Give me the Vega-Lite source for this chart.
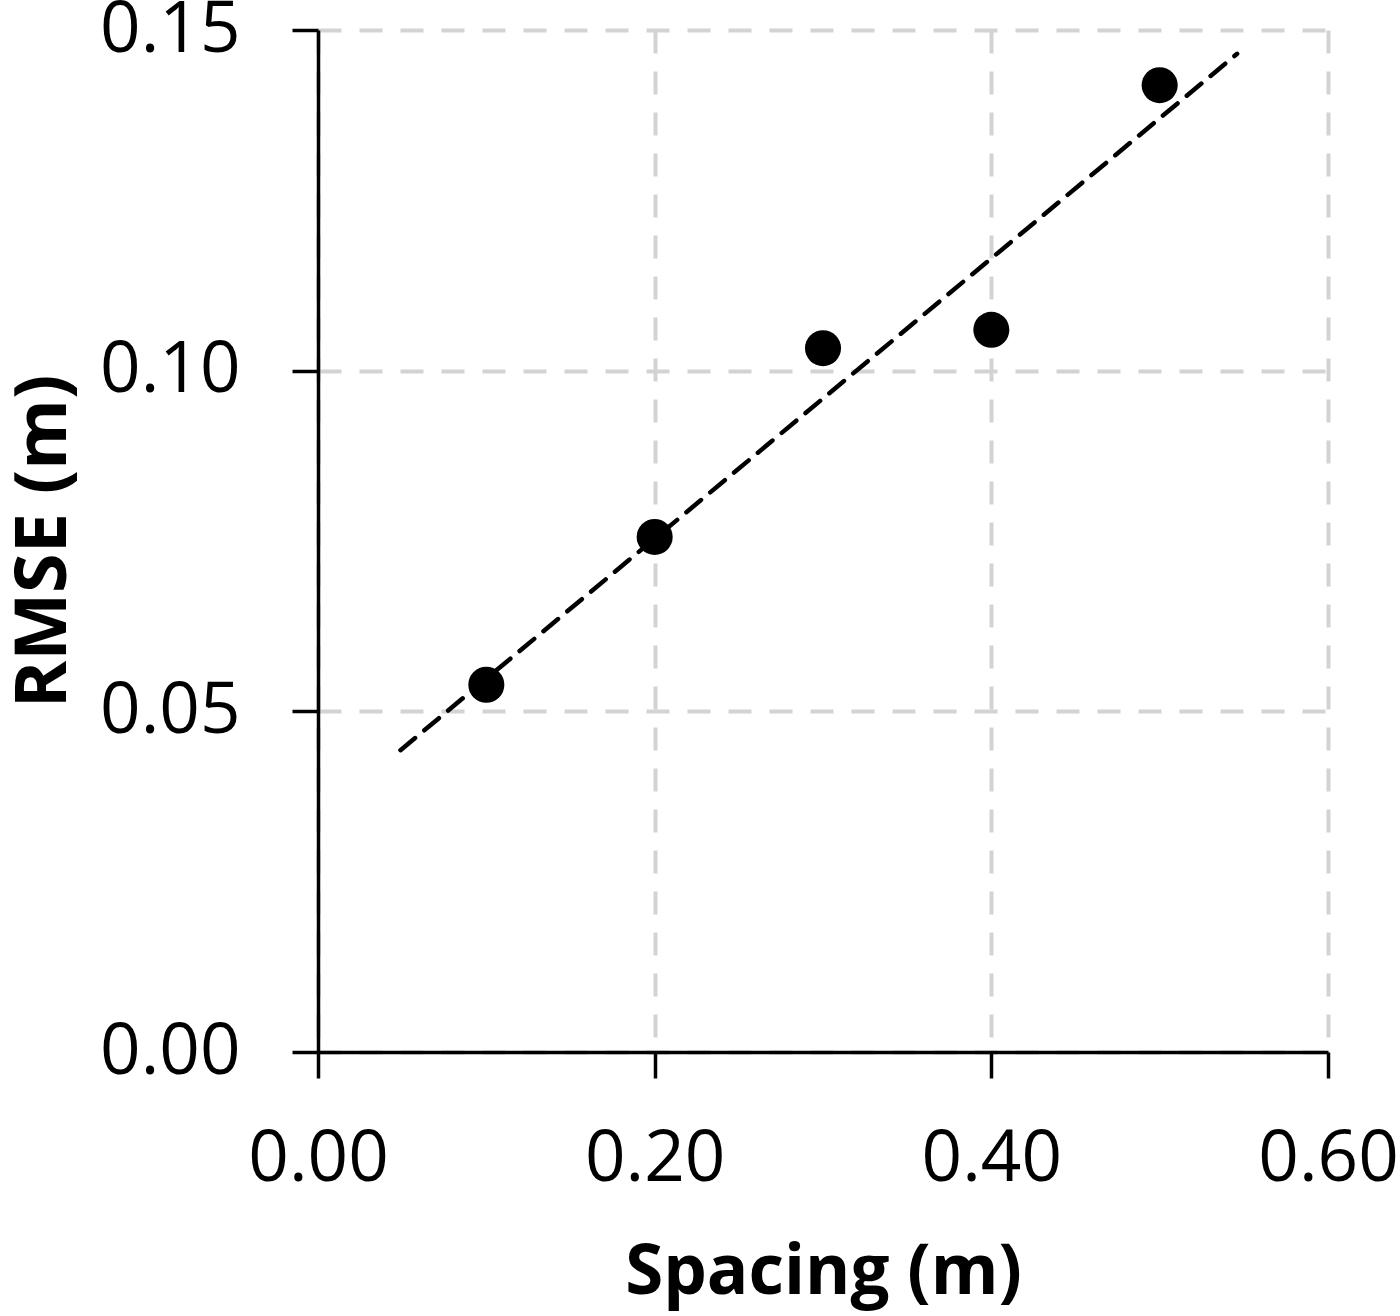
{
  "$schema": "https://vega.github.io/schema/vega-lite/v6.json",
  "autosize": "none",
  "width": 1010,
  "height": 1022,
  "padding": {"left": 318, "top": 30, "right": 72, "bottom": 264},
  "background": "white",
  "config": {
    "view": {"stroke": null},
    "font": "Open Sans"
  },
  "datasets": {
    "points": [
      {"spacing": 0.1, "rmse": 0.0539},
      {"spacing": 0.2, "rmse": 0.0756},
      {"spacing": 0.3, "rmse": 0.1033},
      {"spacing": 0.4, "rmse": 0.106},
      {"spacing": 0.5, "rmse": 0.1419}
    ],
    "trend": [
      {"spacing": 0.049, "rmse": 0.0443},
      {"spacing": 0.546, "rmse": 0.1465}
    ]
  },
  "layer": [
    {
      "data": {"name": "trend"},
      "mark": {"type": "line", "color": "black", "strokeWidth": 4.5, "strokeDash": [19, 12], "strokeCap": "round"},
      "encoding": {
        "x": {"field": "spacing", "type": "quantitative"},
        "y": {"field": "rmse", "type": "quantitative"}
      }
    },
    {
      "data": {"name": "points"},
      "mark": {"type": "point", "shape": "circle", "filled": true, "color": "black", "opacity": 1, "size": 1300},
      "encoding": {
        "x": {
          "field": "spacing", "type": "quantitative",
          "scale": {"domain": [0, 0.6], "nice": false, "zero": false},
          "axis": {
            "title": "Spacing (m)",
            "values": [0, 0.2, 0.4, 0.6],
            "format": ".2f",
            "labelFont": "Open Sans", "labelFontSize": 71, "labelColor": "black",
            "labelPadding": 46, "labelFlush": false,
            "tickSize": 26, "tickWidth": 3.5, "tickColor": "black",
            "domainColor": "black", "domainWidth": 3.5,
            "grid": true, "gridColor": "#d3d3d3", "gridWidth": 4, "gridDash": [23, 18],
            "titleFont": "Open Sans", "titleFontSize": 69, "titleFontWeight": "bold", "titleColor": "black",
            "titlePadding": 44
          }
        },
        "y": {
          "field": "rmse", "type": "quantitative",
          "scale": {"domain": [0, 0.15], "nice": false, "zero": false},
          "axis": {
            "title": "RMSE (m)",
            "values": [0, 0.05, 0.1, 0.15],
            "format": ".2f",
            "labelFont": "Open Sans", "labelFontSize": 71, "labelColor": "black",
            "labelPadding": 52, "labelFlush": false,
            "tickSize": 26, "tickWidth": 3.5, "tickColor": "black",
            "domainColor": "black", "domainWidth": 3.5,
            "grid": true, "gridColor": "#d3d3d3", "gridWidth": 4, "gridDash": [23, 18],
            "titleFont": "Open Sans", "titleFontSize": 72, "titleFontWeight": "bold", "titleColor": "black",
            "titlePadding": 38
          }
        }
      }
    }
  ]
}
